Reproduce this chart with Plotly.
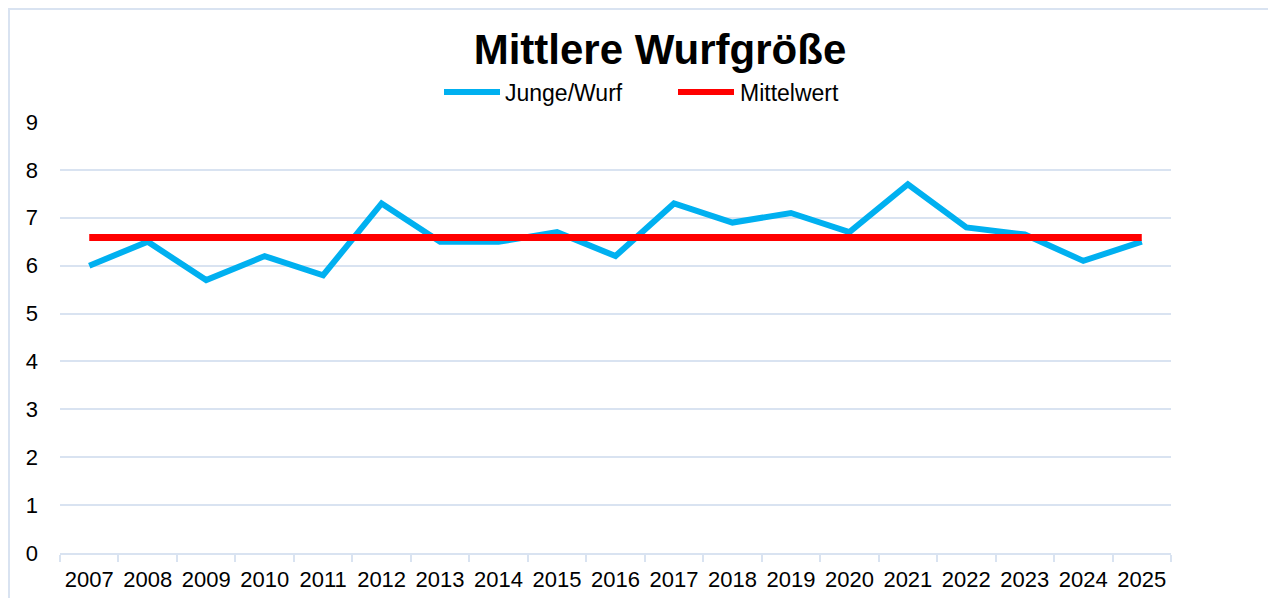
import plotly.graph_objects as go

years = [str(y) for y in range(2007, 2026)]
junge_wurf = [6.0, 6.5, 5.7, 6.2, 5.8, 7.3, 6.5, 6.5, 6.7, 6.2, 7.3, 6.9, 7.1, 6.7, 7.7, 6.8, 6.65, 6.1, 6.5]
mittelwert = [6.59] * len(years)
y_ticks = [0, 1, 2, 3, 4, 5, 6, 7, 8, 9]
series_names = ["Junge/Wurf", "Mittelwert"]
series_colors = ["#00B0F0", "#FF0000"]

FONT = "Liberation Sans, Arial, sans-serif"
GRID = "#D9E3F1"

# page -> paper helpers (figure is drawn with the page's 8px body offset)
def px(xp):
    return (xp - 60) / 1111

def py(yp):
    return (553 - yp) / 431

fig = go.Figure()
fig.add_trace(go.Scatter(x=years, y=junge_wurf, mode="lines", name=series_names[0],
                         line=dict(color=series_colors[0], width=6), showlegend=False))
fig.add_trace(go.Scatter(x=years, y=mittelwert, mode="lines", name=series_names[1],
                         line=dict(color=series_colors[1], width=7), showlegend=False))

# custom legend (long line symbols like the reference)
legend_line_x = [(444, 500), (678, 734)]
legend_text_x = [503, 738]
shapes = [dict(type="rect", xref="paper", yref="paper",
               x0=px(9), x1=px(1273), y0=-0.3, y1=py(9),
               line=dict(color=GRID, width=2), fillcolor="rgba(0,0,0,0)", layer="below")]
annotations = []
for (x0, x1), tx, name, col in zip(legend_line_x, legend_text_x, series_names, series_colors):
    shapes.append(dict(type="line", xref="paper", yref="paper", x0=px(x0), x1=px(x1),
                       y0=py(92), y1=py(92), line=dict(color=col, width=6)))
    annotations.append(dict(text=name, xref="paper", yref="paper", x=px(tx), y=py(93),
                            xanchor="left", yanchor="middle", showarrow=False,
                            font=dict(size=23, family=FONT, color="#000000")))

fig.update_layout(
    width=1276, height=598,
    margin=dict(l=52, r=113, t=114, b=53, autoexpand=False),
    paper_bgcolor="white", plot_bgcolor="white",
    font=dict(family=FONT, color="#000000", size=22),
    title=dict(text="<b>Mittlere Wurfgröße</b>", x=(660 - 8) / 1276, xanchor="center",
               y=1 - (49 - 8) / 598, yanchor="middle", font=dict(size=42, family=FONT)),
    showlegend=False,
    shapes=shapes,
    annotations=annotations,
)
fig.update_xaxes(type="category", showgrid=False, showline=True, linecolor=GRID, linewidth=2,
                 ticks="outside", tickson="boundaries", ticklen=7, tickcolor=GRID, tickwidth=2,
                 ticklabelstandoff=6, tickangle=0, automargin=False,
                 tickfont=dict(size=22, family=FONT), range=[-0.5, len(years) - 0.5])
fig.update_yaxes(range=[0, 9], tickvals=y_ticks, showgrid=True, gridcolor=GRID, gridwidth=1.5,
                 zeroline=False, showline=False, ticks="", ticklabelstandoff=21, automargin=False,
                 tickfont=dict(size=22, family=FONT))

fig.write_html("out.html")
